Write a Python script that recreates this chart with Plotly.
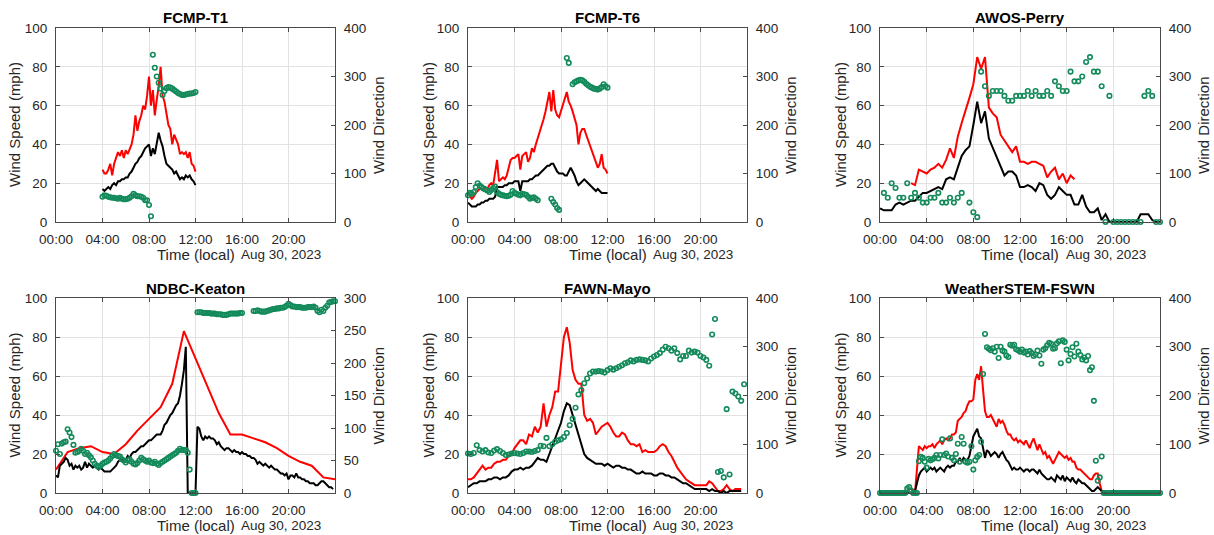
import plotly.graph_objects as go

# ---------------- DATA ----------------
# Each series: start time (local, Aug 30 2023), step in minutes, values.
# Wind speed in mph (left axis), wind direction in degrees (right axis).

T1_GUST_START, T1_GUST_STEP = "04:00", 10
T1_GUST = [27, 25, 25, 27, 30, 24,
           30, 33, 36, 34, 37, 33,
           37, 35, 38, 40, 45, 55,
           47, 52, 55, 60, 58, 65,
           75, 60, 68, 55, 63, 70,
           80, 65, 62, 55, 50, 48,
           40, 45, 42, 40, 35, 36,
           35, 36, 33, 36, 30, 29,
           26]
T1_SUST_START, T1_SUST_STEP = "04:00", 10
T1_SUST = [17, 16, 17, 18, 17, 19,
           20, 19, 21, 21, 22, 22,
           23, 23, 25, 26, 28, 30,
           31, 33, 34, 36, 38, 39,
           40, 34, 38, 35, 40, 46,
           42, 39, 34, 30, 29, 28,
           27, 25, 26, 24, 22, 23,
           22, 24, 23, 24, 22, 21,
           19]
T1_DIR_START, T1_DIR_STEP = "04:00", 10
T1_DIR = [52, 55, 54, 52, 51, 50,
          50, 49, 48, 50, 48, 47,
          47, 48, 50, 53, 58, 55,
          53, 53, 52, 50, 45, 45,
          35, 12, 345, 318, 300, 287,
          275, 262, 270, 276, 278, 277,
          275, 272, 269, 266, 264, 262,
          262, 263, 264, 265, 265, 266,
          268]

T6_GUST_START, T6_GUST_STEP = "00:00", 10
T6_GUST = [16, 13, 12, 13, 15, 16,
           17, 17, 17, 18, 17, 19,
           20, 19, 25, 32, 21, 22,
           23, 22, 24, 28, 32, 33,
           33, 34, 35, 27, 34, 35,
           36, 31, 33, 38, 36, 40,
           43, 46, 50, 53, 57, 62,
           67, 57, 68, 58, 55, 54,
           57, 60, 64, 67, 62, 60,
           57, 54, 50, 40, 46, 48,
           48, 45, 42, 39, 37, 33,
           31, 28, 30, 35, 28, 27,
           25]
T6_SUST_START, T6_SUST_STEP = "00:00", 10
T6_SUST = [10, 9, 8, 8, 8, 9,
           9, 10, 10, 11, 11, 12,
           12, 12, 13, 18, 18, 18,
           18, 19, 19, 20, 20, 20,
           21, 21, 21, 16, 21, 21,
           21, 21, 22, 22, 23, 24,
           24, 25, 26, 27, 28, 29,
           29, 30, 30, 28, 26, 25,
           25, 25, 24, 24, 26, 28,
           26, 24, 21, 19, 20, 21,
           22, 21, 20, 19, 18, 17,
           16, 17, 16, 15, 15, 15,
           15]
T6_DIR_START, T6_DIR_STEP = "00:00", 10
T6_DIR = [55, 60, 58, 62, 72, 80,
          75, 72, 69, 67, 65, 62,
          66, 70, 73, 62, 58, 56,
          55, 54, 53, 54, 56, 64,
          60, 58, 56, 55, 58, 57,
          56, 52, 48, 50, 51, 48,
          45, None, None, None, None, None,
          None, 48, 41, 36, 29, 25,
          None, None, None, 338, 328, None,
          284, 288, 290, 292, 293, 292,
          289, 285, 282, 279, 277, 275,
          274, 273, 275, 278, 284, 280,
          277]

AW_GUST_START, AW_GUST_STEP = "00:00", 20
AW_GUST = [None, None, None, None, None, None, None, None,
           20, 19, 27, 26, 25, 27, 28, 30, 28, 32, 38, 33, 44,
           51, 57, 64, 71, 85, 79, 85, 59, 56, 54, 45, 42, 39,
           36, 39, 31, 31, 30, 31, 31, 30, 29, 23, 26, 28, 22,
           25, 20, 24, 22,
           None, None, None, None, None, None, None, None, None, None, None,
           None, None, None, None, None, None, None, None, None, None, None]
AW_SUST_START, AW_SUST_STEP = "00:00", 20
AW_SUST = [7, 6, 6, 6, 9, 10, 9, 10, 11, 11, 13, 15,
           15, 16, 17, 18, 17, 22, 23, 22, 28, 34, 37, 39,
           50, 62, 51, 57, 43, 38, 33, 28, 24, 26, 26, 24,
           18, 18, 19, 18, 16, 20, 19, 14, 12, 14, 18, 16,
           14, 14, 9, 9, 14, 8, 5, 5, 7, 1, 4, 0,
           0, 0, 0, 0, 0, 0, 0, 4, 4, 4, 1, 0,
           0]
AW_DIR_START, AW_DIR_STEP = "00:00", 20
AW_DIR = [None, 60, 50, 80, 70, 50, 50, 80, 50, 60, 50, 40,
          40, 50, 50, 60, 40, 40, 50, 40, 50, 60, None, 40,
          20, 10, 310, 280, 260, 270, 270, 270, 260, 250, 250, 260,
          260, 260, 270, 260, 270, 260, 260, 270, 260, 290, 280, 270,
          270, 310, 290, 290, 300, 330, 340, 310, 310, 280, 0, 260,
          0, 0, 0, 0, 0, 0, 0, 0, 260, 270, 260, 0,
          0]

KE_GUST_START, KE_GUST_STEP = "00:00", 60
KE_GUST = [12, 21, 23, 24, 21, 20, 25, 32, 38, 44, 56, 83,
           69, 55, 41, 30, 30, 28, 26, 23, 19, 16, 14, 8, 7]
KE_SUST_START, KE_SUST_STEP = "00:00", 10
KE_SUST = [9, 8, 14, 15, 16, 18,
           17, 14, 15, 12, 14, 13,
           14, 12, 13, 16, 13, 15,
           14, 13, 14, 13, 12, 13,
           12, 11, 11, 11, 11, 12,
           13, 14, 16, 17, 18, 16,
           17, 19, 18, 20, 21, 21,
           22, 23, 24, 24, 25, 26,
           27, 27, 28, 29, 30, 30,
           30, 32, 35, 36, 38, 40,
           41, 43, 45, 46, 50, 56,
           63, 75, 0, 0, 0, 0,
           0, 34, 33, 29, 27, 29,
           28, 29, 28, 28, 27, 25,
           26, 24, 23, 22, 23, 23,
           22, 21, 22, 21, 21, 20,
           21, 20, 20, 19, 19, 18,
           18, 17, 15, 16, 15, 14,
           15, 14, 13, 14, 13, 12,
           12, 11, 10, 10, 9, 10,
           7, 9, 9, 8, 10, 8,
           8, 7, 7, 6, 6, 5,
           5, 5, 4, 4, 5, 6,
           6, 5, 4, 3, 3, 2]
KE_DIR_START, KE_DIR_STEP = "00:00", 10
KE_DIR = [65, 75, 60, 76, 78, 79,
          98, 93, 86, 74, 62, 63,
          65, 68, 65, 60, 62, 58,
          55, 50, 45, 42, 40, 42,
          45, 47, 48, 50, 53, 57,
          60, 58, 57, 56, 52, 50,
          47, 50, 52, 48, 45, 44,
          46, 50, 54, 52, 50, 48,
          50, 47, 46, 48, 45, 43,
          46, 48, 50, 52, 54, 56,
          58, 60, 62, 65, 68, 66,
          66, 66, 62, 36, 0, 0,
          0, 278, 278, 278, 277, 277,
          277, 277, 276, 276, 276, 275,
          275, 275, 274, 274, 274, 275,
          276, 276, 276, 276, 276, 277,
          277, None, None, None, None, None,
          280, 280, 281, 280, 279, 279,
          279, 280, 281, 282, 283, 283,
          284, 284, 285, 285, 286, 288,
          291, 289, 287, 287, 286, 286,
          286, 285, 285, 285, 286, 286,
          286, 287, 285, 280, 278, 282,
          280, 285, 288, 293, 294, 295,
          295]

MA_GUST_START, MA_GUST_STEP = "00:00", 15
MA_GUST = [7, 7, 8, 10,
           12, 14, 12, 13,
           13, 15, 16, 16,
           17, 17, 19, 20,
           23, 25, 27, 27,
           25, 30, 29, 34,
           31, 34, 46, 34,
           40, 44, 52, 52,
           65, 80, 85, 77,
           63, 58, 56, 56,
           40, 37, 38, 36,
           30, 32, 34, 35,
           36, 34, 31, 29,
           29, 31, 30, 27,
           25, 25, 24, 25,
           21, 22, 21, 21,
           21, 22, 24, 25,
           24, 21, 19, 16,
           13, 11, 9, 7,
           6, 5, 4, 4,
           4, 4, 4, 6,
           5, 3, 1, 1,
           2, 4, 2, 1,
           2, 2, 2]
MA_SUST_START, MA_SUST_STEP = "00:00", 15
MA_SUST = [3, 4, 5, 5,
           6, 6, 6, 7,
           7, 8, 8, 7,
           8, 8, 9, 11,
           12, 12, 13, 12,
           13, 13, 14, 16,
           18, 17, 17, 16,
           20, 24, 28, 32,
           36, 42, 46, 45,
           40, 35, 31, 26,
           20, 18, 17, 16,
           15, 15, 15, 14,
           15, 14, 13, 14,
           14, 13, 13, 12,
           12, 11, 10, 10,
           11, 10, 10, 10,
           9, 9, 10, 10,
           9, 9, 8, 8,
           7, 6, 5, 5,
           4, 3, 2, 2,
           2, 2, 2, 1,
           2, 1, 1, 0,
           1, 0, 1, 1,
           1, 1, 1]
MA_DIR_START, MA_DIR_STEP = "00:00", 15
MA_DIR = [81, 80, 82, 98,
          88, 85, 88, 83,
          82, 87, 90, 86,
          82, 78, 79, 81,
          82, 81, 80, 82,
          85, 85, 84, 86,
          88, 97, 96, 113,
          96, 100, 105, 108,
          110, 115, 123, 139,
          152, 175, 202, 211,
          225, 235, 245, 249,
          249, 250, 249, 247,
          252, 256, 253, 256,
          259, 262, 266, 268,
          272, 270, 273, 274,
          273, 272, 270, 276,
          280, 283, 287, 294,
          300, 297, 292, 297,
          287, 274, 281, 281,
          292, 288, 290, 288,
          281, 278, 273, 261,
          325, 357, 43, 45,
          32, 172, 38, 208,
          204, 198, 189, 223]

WS_GUST_START, WS_GUST_STEP = "00:00", 10
WS_GUST = [0, 0, 0, 0, 0, 0,
           0, 0, 0, 0, 0, 0,
           0, 0, 1, 2, 2, 1,
           0, 12, 24, 23, 22, 24,
           23, 24, 24, 25, 23, 25,
           26, 27, 25, 27, 28, 27,
           28, 30, 30, 31, 37, 38,
           39, 41, 42, 45, 47, 47,
           48, 58, 61, 58, 65, 53,
           42, 39, 39, 40, 38, 36,
           34, 38, 36, 37, 35, 32,
           30, 30, 28, 27, 28, 26,
           27, 26, 25, 27, 25, 23,
           26, 28, 25, 22, 25, 22,
           20, 21, 18, 19, 17, 15,
           17, 19, 21, 20, 19, 18,
           19, 17, 18, 16, 16, 13,
           12, 12, 11, 10, 9, 8,
           7, 7, 9, 10, 10, 5,
           1, 0, 0, 0, 0, 0,
           0, 0, 0, 0, 0, 0,
           0, 0, 0, 0, 0, 0,
           0, 0, 0, 0, 0, 0,
           0, 0, 0, 0, 0, 0,
           0]
WS_SUST_START, WS_SUST_STEP = "00:00", 10
WS_SUST = [0, 0, 0, 0, 0, 0,
           0, 0, 0, 0, 0, 0,
           0, 0, 0, 0, 0, 0,
           1, 5, 9, 11, 12, 13,
           11, 12, 13, 12, 13, 11,
           12, 13, 12, 11, 13, 14,
           13, 14, 14, 16, 16, 18,
           16, 18, 17, 17, 19, 24,
           29, 31, 33, 29, 28, 23,
           18, 22, 21, 19, 20, 21,
           20, 18, 20, 21, 19, 17,
           16, 14, 12, 13, 12, 12,
           13, 12, 11, 12, 12, 11,
           12, 12, 11, 10, 12, 10,
           9, 8, 7, 7, 8, 7,
           6, 9, 8, 7, 9, 6,
           8, 7, 6, 8, 6, 5,
           7, 6, 5, 5, 4, 3,
           2, 1, 1, 2, 3, 2,
           1, 0, 0, 0, 0, 0,
           0, 0, 0, 0, 0, 0,
           0, 0, 0, 0, 0, 0,
           0, 0, 0, 0, 0, 0,
           0, 0, 0, 0, 0, 0,
           0]
WS_DIR_START, WS_DIR_STEP = "00:00", 10
WS_DIR = [0, 0, 0, 0, 0, 0,
          0, 0, 0, 0, 0, 0,
          0, 0, 9, 12, 5, 0,
          0, 0, 65, 74, 72, 64,
          52, 70, 67, 69, 72, 78,
          71, 78, 110, 78, 81, 75,
          112, 72, 67, 80, 101, 64,
          115, 101, 64, 62, 64, 96,
          48, 67, 74, 78, 105, 244,
          326, 299, 296, 293, 297, 290,
          300, 277, 300, 292, 290, 282,
          279, 304, 302, 304, 295, 293,
          290, 294, 288, 290, 284, 291,
          287, 281, 284, 292, 282, 265,
          294, 297, 303, 308, 306, 296,
          297, 307, 311, 266, 313, 310,
          294, 272, 285, 299, 280, 306,
          290, 283, 274, 278, 272, 281,
          252, 258, 189, 66, 25, 32,
          75, 0, 0, 0, 0, 0,
          0, 0, 0, 0, 0, 0,
          0, 0, 0, 0, 0, 0,
          0, 0, 0, 0, 0, 0,
          0, 0, 0, 0, 0, 0,
          0]

TITLES = ["FCMP-T1", "FCMP-T6", "AWOS-Perry", "NDBC-Keaton", "FAWN-Mayo", "WeatherSTEM-FSWN"]
X_TICK_HOURS = [0, 4, 8, 12, 16, 20]
X_TICK_TEXT = ["00:00", "04:00", "08:00", "12:00", "16:00", "20:00"]
DIR_MAX = [400, 400, 400, 300, 400, 400]
DIR_DTICK = [100, 100, 100, 50, 100, 100]
XLABEL = "Time (local)"
DATE_LABEL = "Aug 30, 2023"
YLABEL_L = "Wind Speed (mph)"
YLABEL_R = "Wind Direction"

SERIES = [
    ((T1_GUST_START, T1_GUST_STEP, T1_GUST), (T1_SUST_START, T1_SUST_STEP, T1_SUST), (T1_DIR_START, T1_DIR_STEP, T1_DIR)),
    ((T6_GUST_START, T6_GUST_STEP, T6_GUST), (T6_SUST_START, T6_SUST_STEP, T6_SUST), (T6_DIR_START, T6_DIR_STEP, T6_DIR)),
    ((AW_GUST_START, AW_GUST_STEP, AW_GUST), (AW_SUST_START, AW_SUST_STEP, AW_SUST), (AW_DIR_START, AW_DIR_STEP, AW_DIR)),
    ((KE_GUST_START, KE_GUST_STEP, KE_GUST), (KE_SUST_START, KE_SUST_STEP, KE_SUST), (KE_DIR_START, KE_DIR_STEP, KE_DIR)),
    ((MA_GUST_START, MA_GUST_STEP, MA_GUST), (MA_SUST_START, MA_SUST_STEP, MA_SUST), (MA_DIR_START, MA_DIR_STEP, MA_DIR)),
    ((WS_GUST_START, WS_GUST_STEP, WS_GUST), (WS_SUST_START, WS_SUST_STEP, WS_SUST), (WS_DIR_START, WS_DIR_STEP, WS_DIR)),
]


def hhmm(s):
    h, m = s.split(":")
    return int(h) + int(m) / 60.0


def times(start, step, vals):
    t0 = hhmm(start)
    return [t0 + i * step / 60.0 for i in range(len(vals))]


# ---------------- LAYOUT ----------------
W, H = 1214, 535
COLS_PX = [(56, 335), (468, 747), (880, 1160)]
ROWS_PX = [(28, 222), (298, 493)]
YL_X = [14, 428, 840]
YR_X = [378, 790, 1203]
TITLE_Y = [17, 288]
XLAB_Y = [255, 525]

FONT = "Liberation Sans, Arial, Helvetica, sans-serif"
AXC = "#262626"
LINEC = "#4a4a4a"
GRIDC = "#e2e2e2"
RED = "#ff0000"
BLACK = "#000000"
GREEN = "#138a5a"
TICK_FS = 13.5
LAB_FS = 15


def px(x):
    return x / W


def py(y):
    return 1 - y / H


fig = go.Figure()
layout = dict(
    width=W, height=H, autosize=False,
    margin=dict(l=0, r=0, t=0, b=0, pad=0),
    paper_bgcolor="white", plot_bgcolor="white",
    showlegend=False,
    font=dict(family=FONT, size=TICK_FS, color=AXC),
)
annotations = []

for i in range(6):
    r, c = divmod(i, 3)
    x0, x1 = COLS_PX[c]
    y0, y1 = ROWS_PX[r]
    xa = "x" if i == 0 else f"x{i+1}"
    ya1 = f"y{2*i+1}" if i > 0 else "y"
    ya2 = f"y{2*i+2}"
    xkey = "xaxis" if i == 0 else f"xaxis{i+1}"
    y1key = "yaxis" if i == 0 else f"yaxis{2*i+1}"
    y2key = f"yaxis{2*i+2}"

    layout[xkey] = dict(
        domain=[px(x0), px(x1)], anchor=ya1, range=[0, 24],
        tickvals=X_TICK_HOURS, ticktext=X_TICK_TEXT,
        showgrid=True, gridcolor=GRIDC, gridwidth=1, zeroline=False,
        showline=True, linecolor=LINEC, linewidth=1, mirror="ticks",
        ticks="inside", ticklen=4, tickcolor=LINEC,
        tickfont=dict(family=FONT, size=TICK_FS, color=AXC),
        ticklabelstandoff=5, automargin=False, fixedrange=True,
    )
    layout[y1key] = dict(
        domain=[py(y1), py(y0)], anchor=xa, range=[0, 100], dtick=20, tick0=0,
        showgrid=True, gridcolor=GRIDC, gridwidth=1, zeroline=False,
        showline=True, linecolor=LINEC, linewidth=1,
        ticks="inside", ticklen=4, tickcolor=LINEC,
        tickfont=dict(family=FONT, size=TICK_FS, color=AXC),
        ticklabelstandoff=5, automargin=False, fixedrange=True,
    )
    layout[y2key] = dict(
        overlaying=ya1, anchor=xa, side="right",
        range=[0, DIR_MAX[i]], dtick=DIR_DTICK[i], tick0=0,
        showgrid=False, zeroline=False,
        showline=True, linecolor=LINEC, linewidth=1,
        ticks="inside", ticklen=4, tickcolor=LINEC,
        tickfont=dict(family=FONT, size=TICK_FS, color=AXC),
        ticklabelstandoff=5, automargin=False, fixedrange=True,
    )

    gust, sust, wdir = SERIES[i]
    fig.add_trace(go.Scatter(x=times(*gust), y=gust[2], mode="lines",
                             line=dict(color=RED, width=2), connectgaps=False,
                             xaxis=xa, yaxis=ya1, cliponaxis=False, hoverinfo="skip"))
    fig.add_trace(go.Scatter(x=times(*sust), y=sust[2], mode="lines",
                             line=dict(color=BLACK, width=2), connectgaps=False,
                             xaxis=xa, yaxis=ya1, cliponaxis=False, hoverinfo="skip"))
    fig.add_trace(go.Scatter(x=times(*wdir), y=wdir[2], mode="markers",
                             marker=dict(symbol="circle-open", size=4.5, color=GREEN,
                                         line=dict(width=1.6, color=GREEN)),
                             xaxis=xa, yaxis=ya2, cliponaxis=False, hoverinfo="skip"))

    cx = (x0 + x1) / 2
    cy = (y0 + y1) / 2
    annotations.append(dict(text=f"<b>{TITLES[i]}</b>", x=px(cx), y=py(TITLE_Y[r]),
                            xref="paper", yref="paper", showarrow=False,
                            xanchor="center", yanchor="middle",
                            font=dict(family=FONT, size=LAB_FS, color="#000")))
    annotations.append(dict(text=XLABEL, x=px(cx), y=py(XLAB_Y[r]),
                            xref="paper", yref="paper", showarrow=False,
                            xanchor="center", yanchor="middle",
                            font=dict(family=FONT, size=LAB_FS, color=AXC)))
    annotations.append(dict(text=DATE_LABEL, x=px(x1 - 12), y=py(XLAB_Y[r]),
                            xref="paper", yref="paper", showarrow=False,
                            xanchor="right", yanchor="middle",
                            font=dict(family=FONT, size=TICK_FS, color=AXC)))
    annotations.append(dict(text=YLABEL_L, x=px(YL_X[c]), y=py(cy),
                            xref="paper", yref="paper", showarrow=False,
                            xanchor="center", yanchor="middle", textangle=-90,
                            font=dict(family=FONT, size=LAB_FS, color=AXC)))
    annotations.append(dict(text=YLABEL_R, x=px(YR_X[c]), y=py(cy),
                            xref="paper", yref="paper", showarrow=False,
                            xanchor="center", yanchor="middle", textangle=-90,
                            font=dict(family=FONT, size=LAB_FS, color=AXC)))

layout["annotations"] = annotations
fig.update_layout(**layout)
fig.write_html("out.html", config={"displayModeBar": False, "staticPlot": True},
               post_script="document.body.style.margin='0px';document.body.style.padding='0px';")
